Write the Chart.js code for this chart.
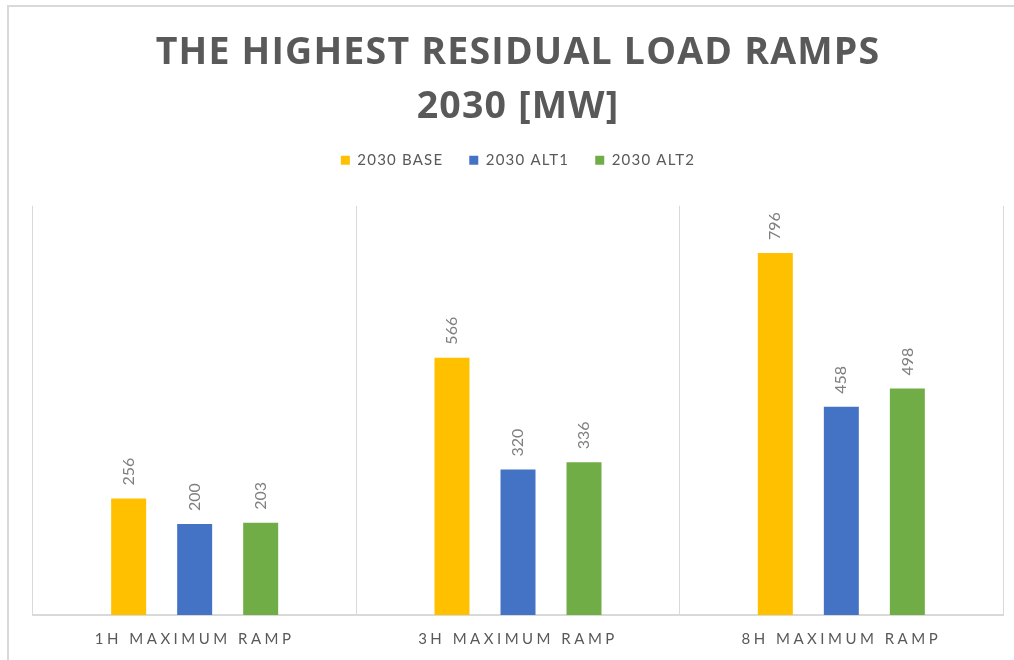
<!DOCTYPE html>
<html>
<head>
<meta charset="utf-8">
<title>Residual load ramps 2030</title>
<script src="https://cdn.jsdelivr.net/npm/chart.js@4.4.1/dist/chart.umd.min.js"></script>
<style>
    html, body { margin: 0; padding: 0; background: #fff; overflow: hidden; }
    #wrap { position: relative; width: 1014px; height: 660px; }
    #frame {
        position: absolute; left: 7px; top: 5px;
        width: 1020px; height: 670px;
        border: 2px solid #d9d9d9;
    }
    #rampChart { position: absolute; left: 0; top: 0; }
</style>
</head>
<body>
<div id="wrap">
    <div id="frame"></div>
    <canvas id="rampChart" width="1014" height="660"></canvas>
</div>

<script>
// ============================
// DATA
// ============================
const categories = ['1H MAXIMUM RAMP', '3H MAXIMUM RAMP', '8H MAXIMUM RAMP'];
const seriesNames = ['2030 BASE', '2030 ALT1', '2030 ALT2'];
const base2030 = [256, 566, 796];
const alt1_2030 = [200, 320, 458];
const alt2_2030 = [203, 336, 498];
const seriesColors = ['#FFC000', '#4472C4', '#70AD47'];

// letter spacing used for the headline/legend and for the axis labels
const HEAD_SPACING = '1.2px';
const TICK_SPACING = '3.5px';


// ============================
// VALUE LABELS (rotated, above each bar)
// ============================
const barValueLabels = {
    id: 'barValueLabels',
    beforeLayout(chart) {
        chart.ctx.letterSpacing = HEAD_SPACING;
    },
    beforeDraw(chart) {
        chart.ctx.letterSpacing = HEAD_SPACING;
    },
    afterDatasetsDraw(chart) {
        const ctx = chart.ctx;
        ctx.save();
        ctx.letterSpacing = '0px';
        ctx.font = '16px Lato';
        ctx.fillStyle = '#7f7f7f';
        ctx.textAlign = 'left';
        ctx.textBaseline = 'middle';
        chart.data.datasets.forEach((ds, i) => {
            chart.getDatasetMeta(i).data.forEach((bar, j) => {
                ctx.save();
                ctx.translate(bar.x, bar.y - 13);
                ctx.rotate(-Math.PI / 2);
                ctx.fillText(String(ds.data[j]), 0, 0);
                ctx.restore();
            });
        });
        ctx.restore();
        // x tick labels are drawn after this (ticks.z = 1)
        ctx.letterSpacing = TICK_SPACING;
    },
    afterDraw(chart) {
        chart.ctx.letterSpacing = '0px';
    }
};


// ============================
// CHART
// ============================
const ctx = document.getElementById('rampChart');

new Chart(ctx, {
    type: 'bar',
    data: {
        labels: categories,
        datasets: [base2030, alt1_2030, alt2_2030].map((values, i) => ({
            label: seriesNames[i],
            data: values,
            backgroundColor: seriesColors[i],
            borderWidth: 0,
            barPercentage: 0.53,
            categoryPercentage: 0.6125
        }))
    },
    options: {
        responsive: false,
        animation: false,
        events: [],
        layout: {
            padding: { top: 0, left: 33, right: 11, bottom: -3 }
        },
        scales: {
            x: {
                offset: true,
                grid: {
                    offset: true,
                    color: '#d9d9d9',
                    lineWidth: 1,
                    drawTicks: false
                },
                border: { color: '#d9d9d9', width: 2 },
                ticks: {
                    color: '#595959',
                    font: { family: 'Lato', size: 15 },
                    padding: 15,
                    maxRotation: 0,
                    autoSkip: false,
                    z: 1
                }
            },
            y: {
                display: false,
                min: 0,
                max: 900
            }
        },
        plugins: {
            title: {
                display: true,
                text: ['THE HIGHEST RESIDUAL LOAD RAMPS', '2030 [MW]'],
                color: '#595959',
                font: { family: 'Open Sans', size: 37.5, weight: 'bold', lineHeight: 1.45 },
                padding: { top: 26, bottom: -8 }
            },
            legend: {
                position: 'top',
                labels: {
                    boxWidth: 9,
                    boxHeight: 9,
                    padding: 26,
                    color: '#595959',
                    font: { family: 'Lato', size: 15 }
                }
            },
            // empty spacer between legend and plot area
            subtitle: {
                display: true,
                text: '',
                weight: 500,
                font: { size: 28, lineHeight: 1 },
                padding: 0
            },
            tooltip: { enabled: false }
        }
    },
    plugins: [barValueLabels]
});
</script>
</body>
</html>
